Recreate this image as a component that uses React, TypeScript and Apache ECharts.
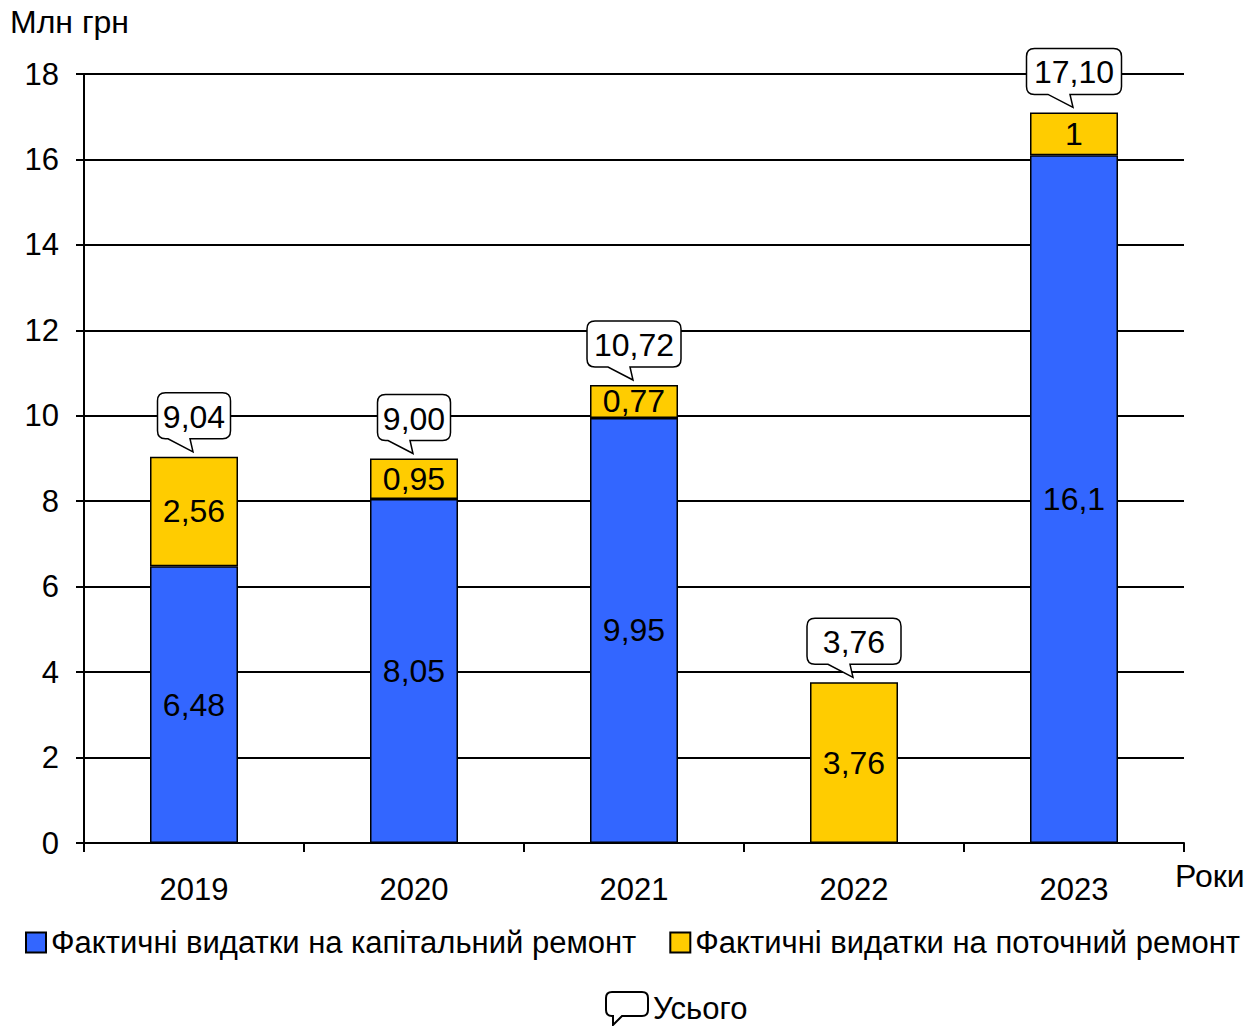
import React, { useEffect, useRef } from "react";
import * as echarts from "echarts";

const years = ["2019", "2020", "2021", "2022", "2023"];
const capitalRepair = [6.48, 8.05, 9.95, null, 16.1];
const currentRepair = [2.56, 0.95, 0.77, 3.76, 1];
const totals = [9.04, 9.0, 10.72, 3.76, 17.1];
const yTicks = { min: 0, max: 18, interval: 2 };

const seriesNames = {
  capital: "Фактичні видатки на капітальний ремонт",
  current: "Фактичні видатки на поточний ремонт",
  total: "Усього",
};

// style constants
const FONT = '"Liberation Sans", Arial, sans-serif';
const BLUE = "#3366FF";
const YELLOW = "#FFCC00";
const calloutWidths = [73, 73, 94, 94, 95];

const Bubble = echarts.graphic.extendShape({
  shape: { x: 0, y: 0, w: 0, h: 0, r: 8, tipX: 0, tipY: 0, bl: 0, br: 0 },
  buildPath(ctx: any, s: any) {
    const x0 = s.x, y0 = s.y, x1 = s.x + s.w, y1 = s.y + s.h, r = s.r;
    ctx.moveTo(x0 + r, y0);
    ctx.lineTo(x1 - r, y0);
    ctx.quadraticCurveTo(x1, y0, x1, y0 + r);
    ctx.lineTo(x1, y1 - r);
    ctx.quadraticCurveTo(x1, y1, x1 - r, y1);
    ctx.lineTo(s.br, y1);
    ctx.lineTo(s.tipX, s.tipY);
    ctx.lineTo(s.bl, y1);
    ctx.lineTo(x0 + r, y1);
    ctx.quadraticCurveTo(x0, y1, x0, y1 - r);
    ctx.lineTo(x0, y0 + r);
    ctx.quadraticCurveTo(x0, y0, x0 + r, y0);
    ctx.closePath();
  },
});
echarts.graphic.registerShape("bubble", Bubble);

const fmt = (v: number) => String(v).replace(".", ",");
const fmt2 = (v: number) => v.toFixed(2).replace(".", ",");

export default function App() {
  const ref = useRef<HTMLDivElement>(null);
  useEffect(() => {
    if (!ref.current) return;
    const chart = echarts.init(ref.current, null, { renderer: "svg" });
    const option: any = {
      animation: false,
      backgroundColor: "#fff",
      textStyle: { fontFamily: FONT },
      grid: { left: 84, right: 73, top: 74, bottom: 183, containLabel: false },
      xAxis: {
        type: "category",
        data: years,
        axisLine: { lineStyle: { color: "#000", width: 2 } },
        axisTick: { show: true, length: 9, lineStyle: { color: "#000", width: 2 } },
        axisLabel: { color: "#000", fontSize: 31, fontFamily: FONT, margin: 31 },
      },
      yAxis: {
        type: "value",
        min: yTicks.min,
        max: yTicks.max,
        interval: yTicks.interval,
        axisLine: { show: true, lineStyle: { color: "#000", width: 2 } },
        axisTick: { show: true, length: 8, lineStyle: { color: "#000", width: 2 } },
        axisLabel: { color: "#000", fontSize: 31, fontFamily: FONT, margin: 25 },
        splitLine: { show: true, lineStyle: { color: "#000", width: 2 } },
      },
      legend: [
        {
          data: [
            { name: seriesNames.capital, itemStyle: { color: BLUE, borderColor: "#000", borderWidth: 2 } },
            { name: seriesNames.current, itemStyle: { color: YELLOW, borderColor: "#000", borderWidth: 2 } },
          ],
          left: 25,
          top: 927,
          padding: 0,
          icon: "rect",
          itemWidth: 20,
          itemHeight: 20,
          itemGap: 33,
          textStyle: { color: "#000", fontSize: 31, fontFamily: FONT },
          selectedMode: false,
        },
        {
          data: [
            {
              name: seriesNames.total,
              icon: "path://M6,0 L36,0 Q42,0 42,6 L42,18 Q42,24 36,24 L16,24 L7,33 L7,24 L6,24 Q0,24 0,18 L0,6 Q0,0 6,0 Z",
              itemStyle: { color: "#fff", borderColor: "#000", borderWidth: 2 },
            },
          ],
          left: 605,
          top: 991,
          padding: 0,
          itemWidth: 42,
          itemHeight: 33,
          textStyle: { color: "#000", fontSize: 31, fontFamily: FONT },
          selectedMode: false,
        },
      ],
      graphic: [
        {
          type: "text",
          left: 10,
          top: 6,
          style: { text: "Млн грн", font: `32px ${FONT}`, fill: "#000" },
        },
        {
          type: "text",
          left: 1175,
          top: 860,
          style: { text: "Роки", font: `32px ${FONT}`, fill: "#000" },
        },
      ],
      series: [
        {
          name: seriesNames.capital,
          type: "bar",
          stack: "total",
          barWidth: "40%",
          data: capitalRepair,
          itemStyle: { color: BLUE, borderColor: "#000", borderWidth: 1.5 },
          label: {
            show: true,
            position: "inside",
            color: "#000",
            fontSize: 32,
            fontFamily: FONT,
            formatter: (p: any) => (p.value == null ? "" : fmt(p.value)),
          },
        },
        {
          name: seriesNames.current,
          type: "bar",
          stack: "total",
          barWidth: "40%",
          data: currentRepair,
          itemStyle: { color: YELLOW, borderColor: "#000", borderWidth: 1.5 },
          label: {
            show: true,
            position: "inside",
            color: "#000",
            fontSize: 32,
            fontFamily: FONT,
            formatter: (p: any) => fmt(p.value),
          },
        },
        {
          name: seriesNames.total,
          type: "custom",
          z: 10,
          data: totals.map((v, i) => [i, v]),
          encode: { x: 0, y: 1 },
          itemStyle: { color: "#fff", borderColor: "#000", borderWidth: 2 },
          renderItem: (params: any, api: any) => {
            const idx = api.value(0);
            const val = api.value(1);
            const pt = api.coord([idx, val]);
            const cx = pt[0];
            const w = calloutWidths[params.dataIndex];
            const h = 46;
            const tipY = pt[1] - 5;
            const bottom = tipY - 13;
            const top = bottom - h;
            return {
              type: "group",
              children: [
                {
                  type: "bubble",
                  shape: { x: cx - w / 2, y: top, w, h, r: 8, tipX: cx - 1, tipY, bl: cx - 26, br: cx - 4 },
                  style: { fill: "#fff", stroke: "#000", lineWidth: 1.5 },
                },
                {
                  type: "text",
                  style: {
                    text: fmt2(val),
                    x: cx,
                    y: top + h / 2 + 1,
                    align: "center",
                    verticalAlign: "middle",
                    font: `32px ${FONT}`,
                    fill: "#000",
                  },
                },
              ],
            };
          },
        },
      ],
    };
    chart.setOption(option);
    return () => chart.dispose();
  }, []);
  return <div ref={ref} style={{ width: 1257, height: 1026, position: "absolute", left: 0, top: 0 }} />;
}
